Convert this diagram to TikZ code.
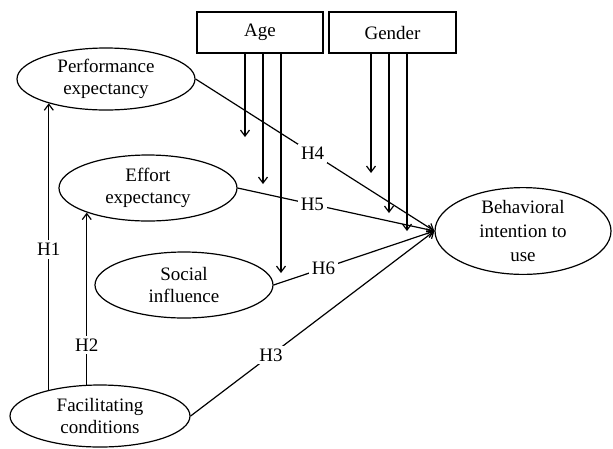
\documentclass[tikz,border=0pt]{standalone}
\usepackage{fontspec}
\setmainfont{Liberation Serif}
\usetikzlibrary{shapes.geometric,arrows.meta}

\begin{document}
\begin{tikzpicture}[x=1pt,y=-1pt,line width=1.2pt,
    >={Straight Barb[length=6pt,width=9pt]},
    construct/.style={draw,ellipse,minimum width=178pt,minimum height=64pt,inner sep=0pt,
      align=center,font=\fontsize{19}{22}\selectfont},
    moderator/.style={draw,rectangle,minimum width=126pt,minimum height=41pt,
      font=\fontsize{19}{22}\selectfont},
    hyp/.style={fill=white,inner sep=3pt,font=\fontsize{19}{22}\selectfont}]

    \useasboundingbox (0,0) rectangle (613,448);

    \node[moderator] (age) at (260,32.5) {Age};
    \node[moderator,minimum width=127pt] (gender) at (392.5,32.5) {Gender};
    \node[construct,minimum height=62pt] (perf) at (106,79) {Performance\\expectancy};
    \node[construct,minimum height=66pt] (eff) at (148,188) {Effort\\expectancy};
    \node[construct,minimum height=66pt] (soc) at (184,285) {Social\\influence};
    \node[construct,minimum height=62pt,minimum width=180pt] (fac) at (100,416) {Facilitating\\conditions};
    \node[construct,minimum width=176pt,minimum height=80pt,font=\fontsize{19}{24}\selectfont] (bi) at (523,231) {Behavioral\\intention to\\use};

    \coordinate (a1) at (245,137);
    \coordinate (a2) at (263,184);
    \coordinate (a3) at (281,273);
    \coordinate (g1) at (371,173);
    \coordinate (g2) at (389,213);
    \coordinate (g3) at (407,231);

    \draw [->] (a1 |- age.south) to (a1);
    \draw [->] (a2 |- age.south) to (a2);
    \draw [->] (a3 |- age.south) to (a3);
    \draw [->] (g1 |- gender.south) to (g1);
    \draw [->] (g2 |- gender.south) to (g2);
    \draw [->] (g3 |- gender.south) to (g3);

    \draw [->] (fac.153) to node[hyp,pos=0.49] {H1} (fac.153 |- perf.203);
    \draw [->] (fac.113) to node[hyp,pos=0.23] {H2} (fac.113 |- eff.202);
    \draw [->] (fac.east) to node[hyp,pos=0.33] {H3} (bi.west);
    \draw [->] (perf.east) to node[hyp,pos=0.49] {H4} (bi.west);
    \draw [->] (eff.east) to node[hyp,pos=0.38] {H5} (bi.west);
    \draw [->] (soc.east) to node[hyp,pos=0.31] {H6} (bi.west);

\end{tikzpicture}
\end{document}
